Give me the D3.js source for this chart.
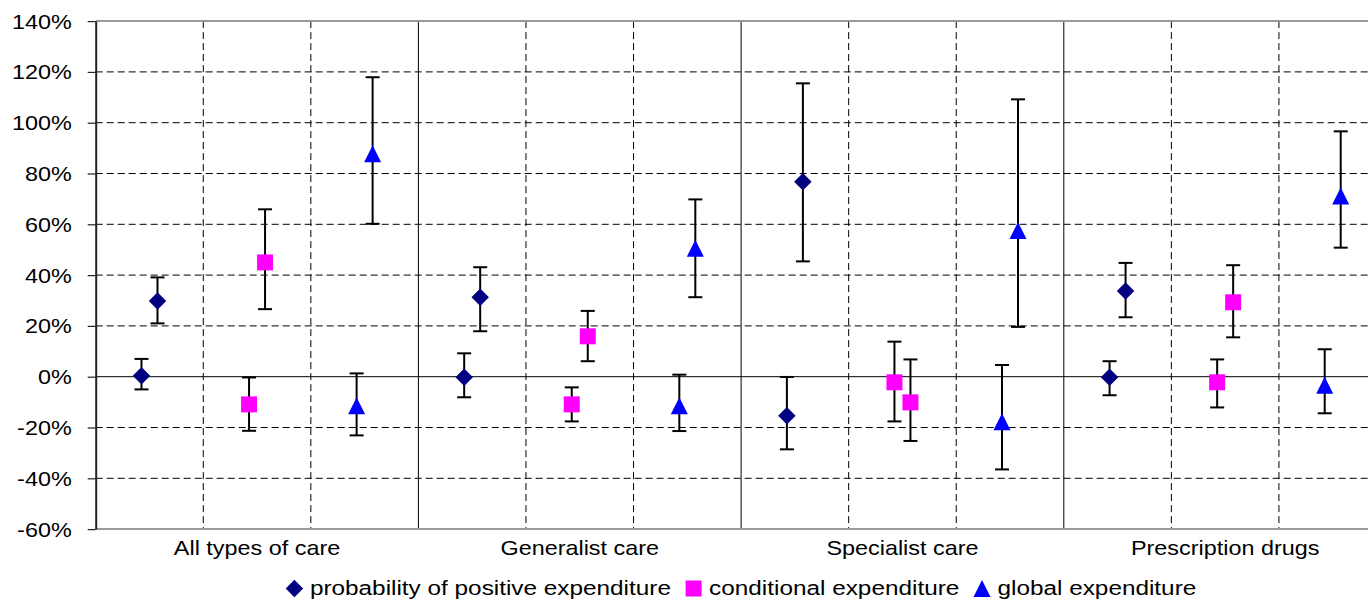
<!DOCTYPE html>
<html>
<head>
<meta charset="utf-8">
<script src="https://cdn.jsdelivr.net/npm/d3@7"></script>
<style>
  body { margin: 0; background: #fff; }
  text { font-family: "Liberation Sans", Arial, sans-serif; fill: #000; }
</style>
</head>
<body>
<div id="chart"></div>
<script>
// categories and series
const categories = ["All types of care", "Generalist care", "Specialist care", "Prescription drugs"];
const seriesNames = ["probability of positive expenditure", "conditional expenditure", "global expenditure"];
const estimates = ["first", "second"];

// point estimates (%), two per category: [first, second]
const probValues = [[0.4, 29.8], [-0.2, 31.3], [-15.4, 76.8], [-0.2, 33.7]];
const probLow    = [[-5.0, 21.0], [-8.1, 17.9], [-28.6, 45.4], [-7.3, 23.4]];
const probHigh   = [[7.0, 39.1], [9.2, 43.1], [-0.1, 115.5], [6.1, 44.8]];

const condValues = [[-10.9, 45.0], [-10.9, 15.9], [-2.2, -10.1], [-2.2, 29.3]];
const condLow    = [[-21.3, 26.6], [-17.6, 6.1], [-17.6, -25.3], [-12.1, 15.5]];
const condHigh   = [[-0.3, 65.9], [-4.2, 25.9], [13.8, 6.8], [6.8, 43.9]];

const globValues = [[-11.4, 87.8], [-11.4, 50.6], [-17.7, 57.6], [-3.4, 71.1]];
const globLow    = [[-23.1, 60.2], [-21.4, 31.3], [-36.5, 19.6], [-14.4, 50.8]];
const globHigh   = [[1.3, 117.9], [0.8, 69.8], [4.6, 109.2], [10.8, 96.6]];

const yTicks = [-60, -40, -20, 0, 20, 40, 60, 80, 100, 120, 140];

const width = 1368, height = 600;
const plotLeft = 95.7, plotTop = 21.1, plotBottom = 529.1;
const groupWidth = 322.7;
const TEXT_SX = 1.17; // glyphs in the original are stretched horizontally

const colors = ["#000080", "#FF00FF", "#0000FF"];

// marker shapes as custom d3 symbol types
const diamond = { draw(ctx, size) { const r = Math.sqrt(size) / 2; ctx.moveTo(0, -r); ctx.lineTo(r, 0); ctx.lineTo(0, r); ctx.lineTo(-r, 0); ctx.closePath(); } };
const square = { draw(ctx, size) { const r = Math.sqrt(size) / 2; ctx.rect(-r, -r, 2 * r, 2 * r); } };
const triangle = { draw(ctx, size) { const r = Math.sqrt(size) / 2; ctx.moveTo(0, -r); ctx.lineTo(r, r); ctx.lineTo(-r, r); ctx.closePath(); } };
const shapes = [diamond, square, triangle];
const sizes = [17.5 * 17.5, 16 * 16, 17 * 17];

const seriesData = [
  { values: probValues, low: probLow, high: probHigh },
  { values: condValues, low: condLow, high: condHigh },
  { values: globValues, low: globLow, high: globHigh }
];

const points = [];
seriesData.forEach((s, si) => {
  categories.forEach((c, ci) => {
    estimates.forEach((e, ei) => {
      points.push({ category: c, series: seriesNames[si], si, estimate: e,
        value: s.values[ci][ei], low: s.low[ci][ei], high: s.high[ci][ei] });
    });
  });
});

const x = d3.scaleBand().domain(categories).range([plotLeft, plotLeft + groupWidth * categories.length]);
const xs = d3.scaleBand().domain(seriesNames).range([0, groupWidth]);
const xe = d3.scalePoint().domain(estimates).range([-8, 8]);
const y = d3.scaleLinear().domain([-60, 140]).range([plotBottom, plotTop]);

const px = d => x(d.category) + xs(d.series) + xs.bandwidth() / 2 + xe(d.estimate);

const svg = d3.select("#chart").append("svg")
  .attr("width", width)
  .attr("height", height);

// horizontal dashed grid
svg.append("g")
  .selectAll("line")
  .data(yTicks.filter(t => t !== -60 && t !== 0 && t !== 140))
  .enter().append("line")
  .attr("x1", plotLeft).attr("x2", width)
  .attr("y1", d => y(d)).attr("y2", d => y(d))
  .attr("stroke", "#000").attr("stroke-width", 1)
  .attr("stroke-dasharray", "7,4");

// vertical lines: dashed between series, solid between categories
const vLines = [];
categories.forEach((c, ci) => {
  seriesNames.forEach((s, si) => {
    if (si > 0) vLines.push({ x: x(c) + xs(s), dashed: true });
  });
  if (ci > 0) vLines.push({ x: x(c), dashed: false });
});
svg.append("g")
  .selectAll("line")
  .data(vLines)
  .enter().append("line")
  .attr("x1", d => d.x).attr("x2", d => d.x)
  .attr("y1", plotTop).attr("y2", plotBottom)
  .attr("stroke", "#000").attr("stroke-width", 1)
  .attr("stroke-dasharray", d => d.dashed ? "7,4" : null);

// top border
svg.append("line")
  .attr("x1", plotLeft).attr("x2", width)
  .attr("y1", plotTop).attr("y2", plotTop)
  .attr("stroke", "#9a9a9a").attr("stroke-width", 2);

// zero line
svg.append("line")
  .attr("x1", plotLeft).attr("x2", width)
  .attr("y1", y(0)).attr("y2", y(0))
  .attr("stroke", "#000").attr("stroke-width", 1);

// x axis (category labels)
const xAxis = svg.append("g")
  .attr("transform", `translate(0,${plotBottom})`)
  .call(d3.axisBottom(x).tickSize(0).tickSizeOuter(0));
xAxis.select(".domain").attr("stroke", "#9a9a9a").attr("stroke-width", 2)
  .attr("d", `M${plotLeft},0H${width}`);
xAxis.selectAll("text")
  .attr("y", 26).attr("dy", 0).attr("x", 0)
  .attr("transform", `scale(${TEXT_SX},1)`)
  .style("font-size", "20px")
  .style("font-family", "'Liberation Sans', Arial, sans-serif");

// y axis
const yAxis = svg.append("g")
  .attr("transform", `translate(${plotLeft},0)`)
  .call(d3.axisLeft(y).tickValues(yTicks).tickFormat(d => d + "%").tickSize(8).tickSizeOuter(0));
yAxis.select(".domain").attr("stroke", "#222").attr("stroke-width", 2);
yAxis.selectAll(".tick line").attr("stroke", "#222").attr("stroke-width", 1.2);
yAxis.selectAll("text")
  .attr("x", 0).attr("dy", "0.35em")
  .attr("transform", `translate(-24,0) scale(${TEXT_SX},1)`)
  .style("font-size", "20px")
  .style("font-family", "'Liberation Sans', Arial, sans-serif");

// error bars
const cap = 7;
const bars = svg.append("g").selectAll("g")
  .data(points).enter().append("g")
  .attr("stroke", "#000").attr("stroke-width", 2);
bars.append("line")
  .attr("x1", px).attr("x2", px)
  .attr("y1", d => y(d.low)).attr("y2", d => y(d.high));
bars.append("line")
  .attr("x1", d => px(d) - cap).attr("x2", d => px(d) + cap)
  .attr("y1", d => y(d.low)).attr("y2", d => y(d.low));
bars.append("line")
  .attr("x1", d => px(d) - cap).attr("x2", d => px(d) + cap)
  .attr("y1", d => y(d.high)).attr("y2", d => y(d.high));

// markers
svg.append("g").selectAll("path")
  .data(points).enter().append("path")
  .attr("transform", d => `translate(${px(d)},${y(d.value)})`)
  .attr("d", d => d3.symbol().type(shapes[d.si]).size(sizes[d.si])())
  .attr("fill", d => colors[d.si]);

// legend
const legend = svg.append("g");
const items = legend.selectAll("g")
  .data(seriesNames).enter().append("g");
items.append("path")
  .attr("d", (d, i) => d3.symbol().type(shapes[i]).size(sizes[i])())
  .attr("fill", (d, i) => colors[i]);
items.append("text")
  .attr("transform", `translate(15.5,6.8) scale(${TEXT_SX},1)`)
  .style("font-size", "20.8px")
  .text(d => d);
let cursor = 0;
const offsets = [];
items.each(function (d, i) {
  const w = d3.select(this).select("text").node().getComputedTextLength() * TEXT_SX;
  offsets.push(cursor);
  cursor += 15.5 + w + 22.7;
});
const totalW = cursor - 22.7 + 8.5;
const legendStart = (plotLeft + x.range()[1]) / 2 - totalW / 2 + 8.5;
items.attr("transform", (d, i) => `translate(${legendStart + offsets[i]},588.5)`);
</script>
</body>
</html>
